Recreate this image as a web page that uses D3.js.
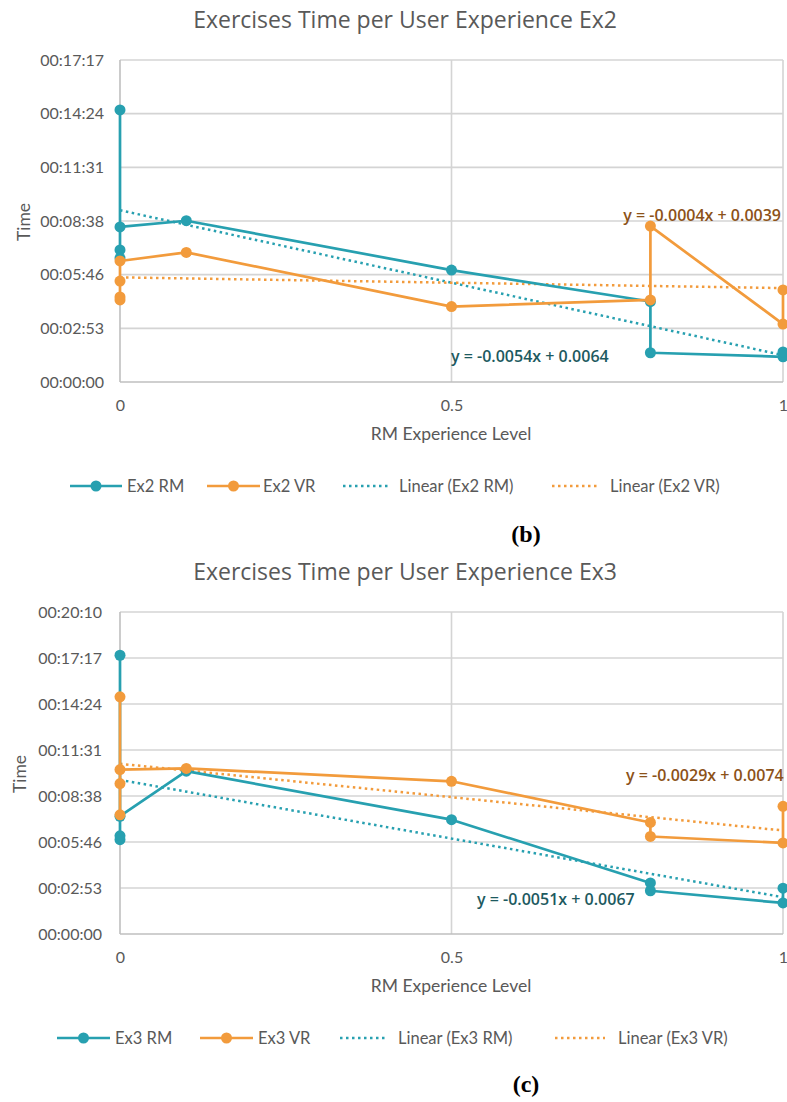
<!DOCTYPE html>
<html>
<head>
<meta charset="utf-8">
<script src="https://cdn.jsdelivr.net/npm/d3@7"></script>
<style>
body{margin:0;background:#fff}
svg{display:block}
text{font-family:Lato,"Open Sans",sans-serif;fill:#595959}
</style>
</head>
<body>
<script>
// times are Excel day fractions (0.002 day = 00:02:53)
var xTicks = [0, 0.5, 1];

var ex2Ticks = [0, 0.002, 0.004, 0.006, 0.008, 0.010, 0.012];
var ex2RmX = [0, 0, 0, 0, 0.1, 0.5, 0.8, 0.8, 1, 1];
var ex2RmY = [0.00492, 0.00462, 0.01014, 0.00578, 0.00601, 0.00417, 0.00300, 0.00109, 0.00094, 0.00112];
var ex2VrX = [0, 0, 0, 0, 0.1, 0.5, 0.8, 0.8, 1, 1];
var ex2VrY = [0.00376, 0.00317, 0.00306, 0.00451, 0.00483, 0.00281, 0.00306, 0.00581, 0.00216, 0.00343];
var ex2Trend = [[-0.0054, 0.0064], [-0.0004, 0.0039]]; // RM, VR

var ex3Ticks = [0, 0.002, 0.004, 0.006, 0.008, 0.010, 0.012, 0.014];
var ex3RmX = [0, 0, 0, 0, 0.1, 0.5, 0.8, 0.8, 1, 1];
var ex3RmY = [0.00410, 0.00427, 0.01212, 0.00512, 0.00708, 0.00497, 0.00222, 0.00188, 0.00135, 0.00199];
var ex3VrX = [0, 0, 0, 0, 0.1, 0.5, 0.8, 0.8, 1, 1];
var ex3VrY = [0.00654, 0.01031, 0.00518, 0.00715, 0.00720, 0.00664, 0.00485, 0.00424, 0.00396, 0.00555];
var ex3Trend = [[-0.0051, 0.0067], [-0.0029, 0.0074]];

var teal = "#27a0b0", orange = "#f29b3c";
var tealDark = "#1d5a60", orangeDark = "#8c5219";

var svg = d3.select("body").append("svg").attr("width", 787).attr("height", 1102);

function pad(n) { return (n < 10 ? "0" : "") + n; }
function fmtTime(d) {
    var s = Math.round(d * 86400);
    return pad(Math.floor(s / 3600)) + ":" + pad(Math.floor(s / 60) % 60) + ":" + pad(s % 60);
}
function zip(xs, ys) { return xs.map(function (v, i) { return [v, ys[i]]; }); }
function eqText(c) { return "y = " + c[0].toFixed(4) + "x + " + c[1].toFixed(4); }

function drawChart(g, o) {
    var x = d3.scaleLinear().domain([0, 1]).range([120, 783]);
    var y = d3.scaleLinear().domain([0, o.yTicks[o.yTicks.length - 1]]).range([382, 60]);

    g.append("text").attr("x", 405).attr("y", 28).attr("text-anchor", "middle")
        .style("font-family", "'Open Sans'").style("font-size", "23px").text(o.title);

    // grid
    g.selectAll(".hg").data(o.yTicks.slice(1)).enter().append("line")
        .attr("x1", x(0)).attr("x2", x(1)).attr("y1", y).attr("y2", y)
        .attr("stroke", "#d4d4d4").attr("stroke-width", 1.6);
    g.selectAll(".vg").data([0.5, 1]).enter().append("line")
        .attr("x1", x).attr("x2", x).attr("y1", y.range()[0]).attr("y2", y.range()[1])
        .attr("stroke", "#d4d4d4").attr("stroke-width", 1.6);
    g.append("line").attr("x1", x(0)).attr("x2", x(0)).attr("y1", y.range()[0]).attr("y2", y.range()[1])
        .attr("stroke", "#bfbfbf").attr("stroke-width", 1.6);
    g.append("line").attr("x1", x(0)).attr("x2", x(1)).attr("y1", y(0)).attr("y2", y(0))
        .attr("stroke", "#bfbfbf").attr("stroke-width", 1.6);

    g.append("g").attr("transform", "translate(" + x(0) + ",0)")
        .call(d3.axisLeft(y).tickValues(o.yTicks).tickFormat(fmtTime).tickSize(0).tickPadding(o.tickPad));
    g.append("g").attr("transform", "translate(0," + y(0) + ")")
        .call(d3.axisBottom(x).tickValues(xTicks).tickFormat(d3.format("")).tickSize(0).tickPadding(18));
    g.selectAll(".domain").remove();
    g.selectAll(".tick text").style("font-family", "Lato").style("font-size", "16px").attr("fill", "#595959");

    g.append("text").attr("transform", "translate(" + o.timeX + ",222) rotate(-90)")
        .attr("text-anchor", "middle").style("font-size", "17.5px").text("Time");
    g.append("text").attr("x", 451).attr("y", 440).attr("text-anchor", "middle")
        .style("font-size", "17.5px").text("RM Experience Level");

    var line = d3.line().x(function (d) { return x(d[0]); }).y(function (d) { return y(d[1]); });

    // trendlines
    o.trend.forEach(function (c, i) {
        g.append("path").datum([[0, c[1]], [1, c[0] + c[1]]]).attr("d", line)
            .attr("fill", "none").attr("stroke", i ? orange : teal).attr("stroke-width", 2.5)
            .attr("stroke-dasharray", "2.5 3.5");
    });

    // series
    o.series.forEach(function (s) {
        g.append("path").datum(s.pts).attr("d", line)
            .attr("fill", "none").attr("stroke", s.color).attr("stroke-width", 2.7)
            .attr("stroke-linejoin", "round");
        g.selectAll(null).data(s.pts).enter().append("circle")
            .attr("cx", function (d) { return x(d[0]); }).attr("cy", function (d) { return y(d[1]); })
            .attr("r", 5.5).attr("fill", s.color);
    });

    // equations
    o.eqs.forEach(function (e, i) {
        g.append("text").attr("x", e[0]).attr("y", e[1]).attr("text-anchor", e[2])
            .style("font-family", "'Open Sans'").style("font-weight", 600).style("font-size", "16px")
            .style("fill", i ? orangeDark : tealDark).text(eqText(o.trend[i]));
    });

    // legend
    var lg = g.append("g").attr("transform", "translate(0,486)");
    o.legend.forEach(function (l, i) {
        var col = i % 2 ? orange : teal;
        var seg = lg.append("line").attr("x1", l[0]).attr("x2", l[1]).attr("y1", 0).attr("y2", 0)
            .attr("stroke", col).attr("stroke-width", i < 2 ? 2.7 : 2.5);
        if (i < 2) {
            lg.append("circle").attr("cx", (l[0] + l[1]) / 2).attr("cy", 0).attr("r", 5.5).attr("fill", col);
        } else {
            seg.attr("stroke-dasharray", "2.5 3.5");
        }
        lg.append("text").attr("x", l[2]).attr("y", 6).style("font-size", "16.5px").text(o.names[i]);
    });

    g.append("text").attr("x", 526).attr("y", o.capY).attr("text-anchor", "middle")
        .style("font-family", "'Liberation Serif'").style("font-weight", "bold").style("font-size", "24px")
        .style("fill", "#000").text(o.caption);
}

drawChart(svg.append("g"), {
    title: "Exercises Time per User Experience Ex2",
    yTicks: ex2Ticks, tickPad: 16, timeX: 30,
    series: [{ pts: zip(ex2RmX, ex2RmY), color: teal }, { pts: zip(ex2VrX, ex2VrY), color: orange }],
    trend: ex2Trend,
    eqs: [[451, 362, "start"], [781, 221, "end"]],
    names: ["Ex2 RM", "Ex2 VR", "Linear (Ex2 RM)", "Linear (Ex2 VR)"],
    legend: [[70, 122, 127], [207, 260, 263], [343, 390, 399], [552, 600, 610]],
    caption: "(b)", capY: 542
});

drawChart(svg.append("g").attr("transform", "translate(0,552)"), {
    title: "Exercises Time per User Experience Ex3",
    yTicks: ex3Ticks, tickPad: 18, timeX: 26,
    series: [{ pts: zip(ex3RmX, ex3RmY), color: teal }, { pts: zip(ex3VrX, ex3VrY), color: orange }],
    trend: ex3Trend,
    eqs: [[477, 353, "start"], [626, 229, "start"]],
    names: ["Ex3 RM", "Ex3 VR", "Linear (Ex3 RM)", "Linear (Ex3 VR)"],
    legend: [[57, 110, 115], [200, 253, 258], [340, 388, 398], [555, 605, 618]],
    caption: "(c)", capY: 540
});
</script>
</body>
</html>
